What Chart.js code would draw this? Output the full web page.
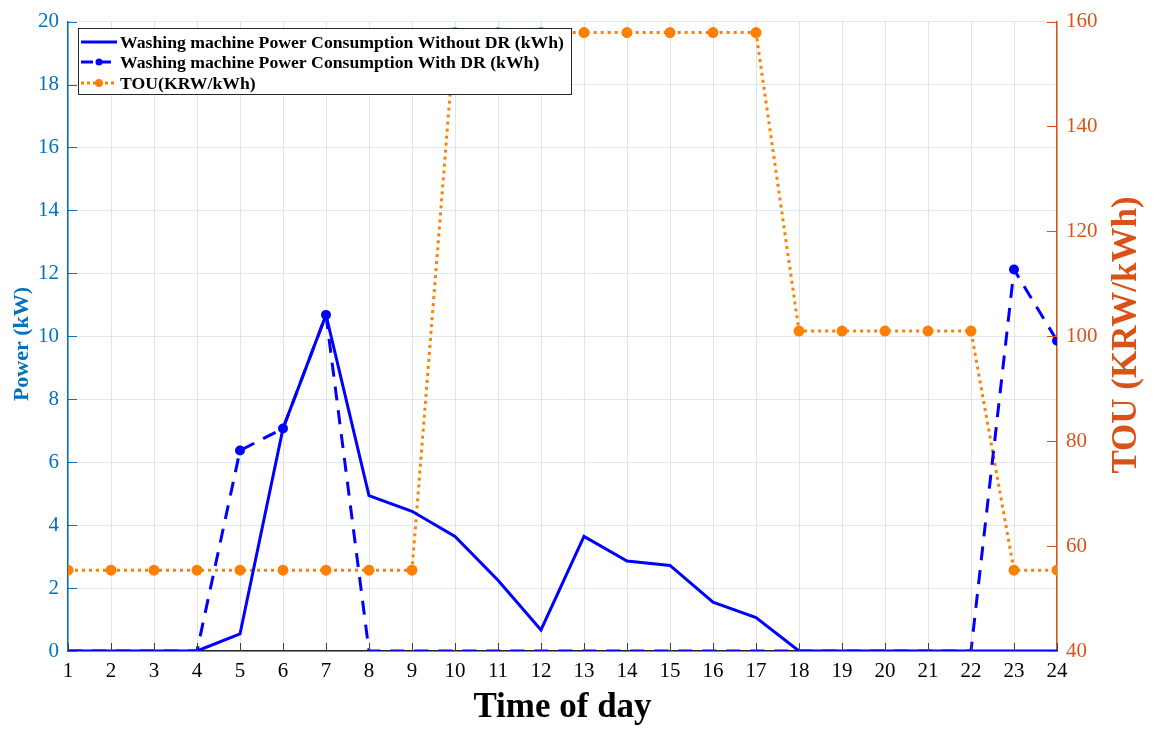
<!DOCTYPE html>
<html>
<head>
<meta charset="utf-8">
<script src="https://cdn.jsdelivr.net/npm/chart.js@4.4.1/dist/chart.umd.min.js"></script>
<style>
  html, body { margin: 0; padding: 0; background: #fff; }
  #wrap { width: 1161px; height: 729px; }
</style>
</head>
<body>
<div id="wrap"><canvas id="chart" width="1161" height="729"></canvas></div>
<script>
// hours of the day
const hours = ['1','2','3','4','5','6','7','8','9','10','11','12','13','14','15','16','17','18','19','20','21','22','23','24'];

// washing machine power (kW)
const withoutDR = [0, 0, 0, 0, 0.54, 7.07, 10.68, 4.94, 4.44, 3.64, 2.25, 0.67, 3.64, 2.86, 2.72, 1.55, 1.06, 0, 0, 0, 0, 0, 0, 0];
const withDR = [0, 0, 0, 0, 6.37, 7.07, 10.68, 0, 0, 0, 0, 0, 0, 0, 0, 0, 0, 0, 0, 0, 0, 0, 12.12, 9.86];

// time of use price (KRW/kWh)
const tou = [55.4, 55.4, 55.4, 55.4, 55.4, 55.4, 55.4, 55.4, 55.4, 157.9, 157.9, 157.9, 157.9, 157.9, 157.9, 157.9, 157.9, 101, 101, 101, 101, 101, 55.4, 55.4];

const legendLabels = [
    'Washing machine Power Consumption Without DR (kWh)',
    'Washing machine Power Consumption With DR (kWh)',
    'TOU(KRW/kWh)'
];

const BLUE = '#0000ff';
const ORANGE = '#ff8000';
const LEFT_COLOR = '#0072bd';
const RIGHT_COLOR = '#d95319';
const SERIF = '"Liberation Serif", "Times New Roman", serif';

// Draws inward tick marks, axis titles and the boxed legend
const decorPlugin = {
    id: 'decor',
    afterDraw(chart) {
        const ctx = chart.ctx;
        const a = chart.chartArea;
        const x = chart.scales.x;
        const yL = chart.scales.y;
        const yR = chart.scales.y1;
        ctx.save();

        // inward ticks
        ctx.lineWidth = 1;
        ctx.strokeStyle = '#404040';
        x.ticks.forEach((t, i) => {
            const px = Math.round(x.getPixelForTick(i)) + 0.5;
            ctx.beginPath();
            ctx.moveTo(px, a.bottom);
            ctx.lineTo(px, a.bottom - 8);
            ctx.stroke();
        });
        ctx.strokeStyle = LEFT_COLOR;
        yL.ticks.forEach(t => {
            const py = Math.round(yL.getPixelForValue(t.value)) + 0.5;
            ctx.beginPath();
            ctx.moveTo(a.left, py);
            ctx.lineTo(a.left + 9, py);
            ctx.stroke();
        });
        ctx.strokeStyle = RIGHT_COLOR;
        yR.ticks.forEach(t => {
            const py = Math.round(yR.getPixelForValue(t.value)) + 0.5;
            ctx.beginPath();
            ctx.moveTo(a.right, py);
            ctx.lineTo(a.right - 10, py);
            ctx.stroke();
        });

        // axis titles
        ctx.textAlign = 'center';
        ctx.textBaseline = 'middle';
        ctx.fillStyle = '#000';
        ctx.font = 'bold 35px ' + SERIF;
        ctx.fillText('Time of day', (a.left + a.right) / 2, 708);

        ctx.save();
        ctx.translate(22, 344);
        ctx.rotate(-Math.PI / 2);
        ctx.fillStyle = LEFT_COLOR;
        ctx.font = 'bold 22px ' + SERIF;
        ctx.fillText('Power (kW)', 0, 0);
        ctx.restore();

        ctx.save();
        ctx.translate(1127, 335);
        ctx.rotate(-Math.PI / 2);
        ctx.fillStyle = RIGHT_COLOR;
        ctx.font = 'bold 35px ' + SERIF;
        ctx.fillText('TOU (KRW/kWh)', 0, 0);
        ctx.restore();

        // legend box
        const bx = 78.5, by = 28.5, bw = 493, bh = 66;
        ctx.fillStyle = '#fff';
        ctx.fillRect(bx, by, bw, bh);
        ctx.strokeStyle = '#262626';
        ctx.lineWidth = 1;
        ctx.strokeRect(bx, by, bw, bh);

        const rows = [42, 62, 83];
        const x0 = 81, x1 = 117;
        ctx.lineWidth = 3;

        ctx.strokeStyle = BLUE;
        ctx.setLineDash([]);
        ctx.beginPath(); ctx.moveTo(x0, rows[0]); ctx.lineTo(x1, rows[0]); ctx.stroke();

        ctx.setLineDash([12, 6]);
        ctx.beginPath(); ctx.moveTo(x0, rows[1]); ctx.lineTo(x1, rows[1]); ctx.stroke();
        ctx.setLineDash([]);
        ctx.fillStyle = BLUE;
        ctx.beginPath(); ctx.arc((x0 + x1) / 2, rows[1], 3.5, 0, Math.PI * 2); ctx.fill();

        ctx.strokeStyle = ORANGE;
        ctx.setLineDash([3, 3]);
        ctx.beginPath(); ctx.moveTo(x0, rows[2]); ctx.lineTo(x1, rows[2]); ctx.stroke();
        ctx.setLineDash([]);
        ctx.fillStyle = ORANGE;
        ctx.beginPath(); ctx.arc((x0 + x1) / 2, rows[2], 4, 0, Math.PI * 2); ctx.fill();

        ctx.fillStyle = '#000';
        ctx.textAlign = 'left';
        ctx.font = 'bold 17.7px ' + SERIF;
        legendLabels.forEach((label, i) => ctx.fillText(label, 120, rows[i] + 1));

        ctx.restore();
    }
};

const ctx = document.getElementById('chart');
new Chart(ctx, {
    type: 'line',
    data: {
        labels: hours,
        datasets: [
            {
                label: legendLabels[0],
                data: withoutDR,
                yAxisID: 'y',
                borderColor: BLUE,
                backgroundColor: BLUE,
                borderWidth: 3,
                pointRadius: 0,
                tension: 0,
                clip: 0
            },
            {
                label: legendLabels[1],
                data: withDR,
                yAxisID: 'y',
                borderColor: BLUE,
                backgroundColor: BLUE,
                borderWidth: 3,
                borderDash: [14, 10],
                pointRadius: withDR.map(v => v > 0 ? 3.5 : 0),
                tension: 0,
                clip: 0
            },
            {
                label: legendLabels[2],
                data: tou,
                yAxisID: 'y1',
                borderColor: ORANGE,
                backgroundColor: ORANGE,
                borderWidth: 3,
                borderDash: [3, 4],
                pointRadius: 4,
                tension: 0,
                clip: 0
            }
        ]
    },
    options: {
        responsive: false,
        animation: false,
        events: [],
        layout: { padding: { top: 20, left: 0, right: 0, bottom: 0 } },
        plugins: {
            legend: { display: false },
            tooltip: { enabled: false }
        },
        scales: {
            x: {
                offset: false,
                afterFit: s => { s.height = 78; },
                grid: { color: '#e3e3e3', drawTicks: false },
                border: { color: '#262626', width: 1.5 },
                ticks: {
                    color: '#000',
                    padding: 8,
                    autoSkip: false,
                    maxRotation: 0,
                    font: { family: SERIF, size: 21 }
                },
                title: { display: false }
            },
            y: {
                position: 'left',
                min: 0,
                max: 20,
                afterFit: s => { s.width = 68; },
                grid: { color: '#dde9f5', drawTicks: false },
                border: { color: LEFT_COLOR, width: 1.5 },
                ticks: {
                    stepSize: 2,
                    color: LEFT_COLOR,
                    padding: 9,
                    font: { family: SERIF, size: 21 }
                },
                title: { display: false }
            },
            y1: {
                position: 'right',
                min: 40,
                max: 160,
                afterFit: s => { s.width = 104; },
                grid: { drawOnChartArea: false, drawTicks: false },
                border: { color: RIGHT_COLOR, width: 1.5 },
                ticks: {
                    stepSize: 20,
                    color: RIGHT_COLOR,
                    padding: 9,
                    font: { family: SERIF, size: 21 }
                },
                title: { display: false }
            }
        }
    },
    plugins: [decorPlugin]
});
</script>
</body>
</html>
